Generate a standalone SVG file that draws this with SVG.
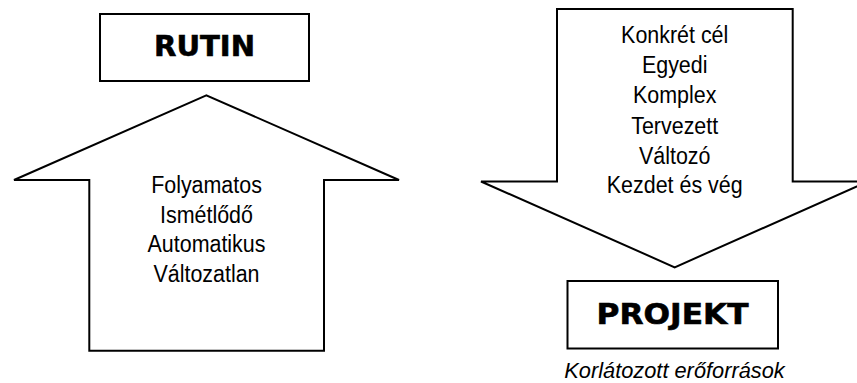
<svg xmlns="http://www.w3.org/2000/svg" width="857" height="383" viewBox="0 0 857 383">
<style>
.shape{fill:#fff;stroke:#000;stroke-width:2;stroke-linejoin:miter}
.t{font-family:"Liberation Sans",Arial,sans-serif;font-size:24.5px;fill:#000;text-anchor:middle}
.title{font-family:"DejaVu Sans",sans-serif;font-weight:bold;font-size:29px;fill:#000;stroke:#000;stroke-width:0.6;text-anchor:middle}
.it{font-family:"Liberation Sans",Arial,sans-serif;font-style:italic;font-size:21.8px;fill:#000;text-anchor:middle}
</style>
<g id="connectors">
<polygon id="arrow-up" class="shape" points="206.3,95.3 14,180 89.3,180 89.3,350.7 324,350.7 324,180 399,180"/>
<polygon id="arrow-down" class="shape" points="557,9 792.7,9 792.7,181.5 868,181.5 674.7,267.3 481,181.5 557,181.5"/>
</g>
<g id="rutin">
<rect class="shape" x="100" y="14" width="209" height="67"/>
<text class="title" x="204.5" y="56" textLength="101" lengthAdjust="spacingAndGlyphs">RUTIN</text>
</g>
<g id="rutin-props" transform="translate(206.5,0) scale(0.875,1)">
<text class="t" x="0" y="193.3">Folyamatos</text>
<text class="t" x="0" y="222.8">Ismétlődő</text>
<text class="t" x="0" y="252.3">Automatikus</text>
<text class="t" x="0" y="281.8">Változatlan</text>
</g>
<g id="projekt-props" transform="translate(674.7,0) scale(0.875,1)">
<text class="t" x="0" y="43.5">Konkrét cél</text>
<text class="t" x="0" y="73.5">Egyedi</text>
<text class="t" x="0" y="103.5">Komplex</text>
<text class="t" x="0" y="133.8">Tervezett</text>
<text class="t" x="0" y="164">Változó</text>
<text class="t" x="0" y="193.5">Kezdet és vég</text>
</g>
<g id="projekt">
<rect class="shape" x="567.5" y="281" width="210.5" height="67.5"/>
<text class="title" x="672.5" y="324" textLength="152" lengthAdjust="spacingAndGlyphs">PROJEKT</text>
<text class="it" x="674.5" y="378">Korlátozott erőforrások</text>
</g>
</svg>
